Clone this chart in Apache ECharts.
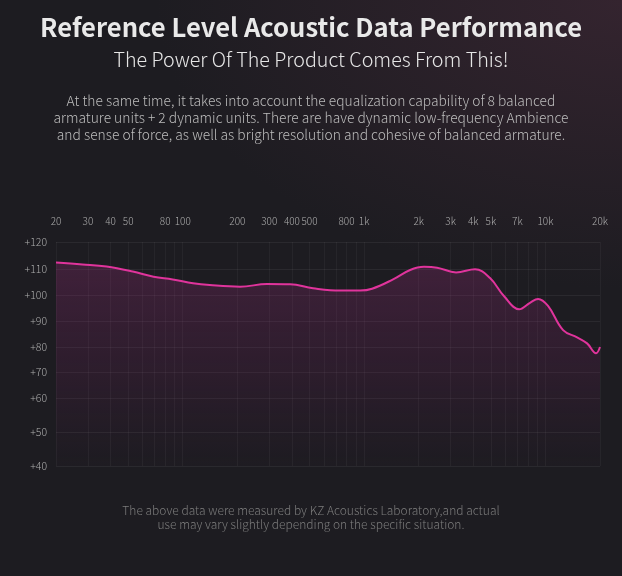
<!DOCTYPE html>
<html>
<head>
<meta charset="utf-8">
<script src="https://cdn.jsdelivr.net/npm/echarts@6/dist/echarts.min.js"></script>
<style>
  html, body { margin: 0; padding: 0; }
  body {
    width: 622px; height: 576px; overflow: hidden;
    background: radial-gradient(ellipse 75% 50% at 100% 0%, #34242f 0%, #1d1c21 100%), #1d1c21;
  }
  #main { width: 622px; height: 576px; }
</style>
</head>
<body>
<div id="main"></div>
<script>
// frequency response (Hz / dB)
const freqs = [20, 28, 38, 53, 69, 88, 114, 141, 207, 292, 391, 523, 737, 950, 1107, 1445, 1794, 2140, 2526, 3216, 4090, 4950, 5920, 7160, 8220, 9110, 10340, 12520, 14950, 16980, 19020, 20000];
const levels = [112.4, 111.7, 110.9, 109.0, 107.0, 106.0, 104.5, 103.8, 103.2, 104.2, 104.1, 102.6, 101.7, 101.7, 102.4, 106.0, 109.6, 110.8, 110.5, 108.7, 109.9, 106.5, 99.5, 94.5, 97.0, 98.5, 95.8, 86.5, 83.7, 81.4, 77.5, 80.0];

// top axis labels
const freqLabels = [20, 30, 40, 50, 80, 100, 200, 300, 400, 500, 800, 1000, 2000, 3000, 4000, 5000, 7000, 10000, 20000];
// faint vertical grid lines
const gridFreqs = [20, 30, 40, 50, 60, 70, 80, 90, 100, 200, 300, 400, 500, 600, 700, 800, 900,
                   1000, 2000, 3000, 4000, 5000, 6000, 7000, 8000, 9000, 10000, 20000];

// left axis labels, the dB steps are not evenly spaced in the picture
const yLevels = [40, 50, 60, 70, 80, 90, 100, 110, 120];
const yStops = [0, 34, 68, 94, 119, 145, 171, 197, 224];

function dbToAxis(db) {
  for (let i = 0; i < yLevels.length - 1; i++) {
    if (db <= yLevels[i + 1]) {
      let t = (db - yLevels[i]) / (yLevels[i + 1] - yLevels[i]);
      return yStops[i] + t * (yStops[i + 1] - yStops[i]);
    }
  }
  return yStops[yStops.length - 1];
}

function fmtFreq(v) {
  return v >= 1000 ? (Math.round(v / 100) / 10) + 'k' : String(Math.round(v));
}

const chart = echarts.init(document.getElementById('main'));
const cjk = '"Noto Sans CJK SC", "Noto Sans", sans-serif';

function centerText(y, text, font, fill, lineHeight) {
  return {
    type: 'text', x: 311, y: y,
    style: {
      text: text, font: font, fill: fill, lineHeight: lineHeight,
      textAlign: 'center', textVerticalAlign: 'top'
    }
  };
}

let option = {
  backgroundColor: 'transparent',
  animation: false,
  graphic: [
    centerText(14, 'Reference Level Acoustic Data Performance', 'bold 25.6px ' + cjk, '#e9e9e9'),
    centerText(50, 'The Power Of The Product Comes From This!', '300 19.7px ' + cjk, '#e6e6e6'),
    centerText(92,
      'At the same time, it takes into account the equalization capability of 8 balanced\n' +
      'armature units + 2 dynamic units. There are have dynamic low-frequency Ambience\n' +
      'and sense of force, as well as bright resolution and cohesive of balanced armature.',
      '300 13.8px ' + cjk, '#bdbdbd', 17),
    centerText(503,
      'The above data were measured by KZ Acoustics Laboratory,and actual\n' +
      'use may vary slightly depending on the specific situation.',
      '300 12px ' + cjk, '#7c7c7c', 14)
  ],
  grid: { left: 56, right: 22, top: 242, bottom: 110 },
  xAxis: {
    type: 'log', logBase: 10, min: 20, max: 20000, position: 'top',
    axisLine: {show: false},
    axisTick: {show: false, customValues: gridFreqs},
    axisLabel: {
      customValues: freqLabels, margin: 16, color: '#acacac', fontSize: 10, fontWeight: 300, fontFamily: cjk,
      formatter: fmtFreq
    },
    splitLine: {show: true, lineStyle: {color: 'rgba(255,255,255,0.045)', width: 1}}
  },
  yAxis: {
    type: 'value', min: 0, max: 224,
    axisLine: {show: false},
    axisTick: {show: false, customValues: yStops},
    axisLabel: {
      customValues: yStops, margin: 9, color: '#acacac', fontSize: 10.5, fontWeight: 300, fontFamily: cjk,
      formatter: function(v) {
        let i = yStops.indexOf(v);
        return i >= 0 ? '+' + yLevels[i] : '';
      }
    },
    splitLine: {show: true, lineStyle: {color: 'rgba(255,255,255,0.06)', width: 1}}
  },
  series: [{
    type: 'line',
    smooth: 0.4,
    symbol: 'none',
    data: freqs.map((f, i) => [f, dbToAxis(levels[i])]),
    lineStyle: {color: '#e0349c', width: 2},
    areaStyle: {
      origin: 'start',
      color: new echarts.graphic.LinearGradient(0, 0, 0, 1, [
        {offset: 0, color: 'rgba(150,45,120,0.42)'},
        {offset: 0.6, color: 'rgba(120,35,100,0.22)'},
        {offset: 1, color: 'rgba(90,30,80,0.03)'}
      ])
    }
  }]
};

chart.setOption(option);
</script>
</body>
</html>
